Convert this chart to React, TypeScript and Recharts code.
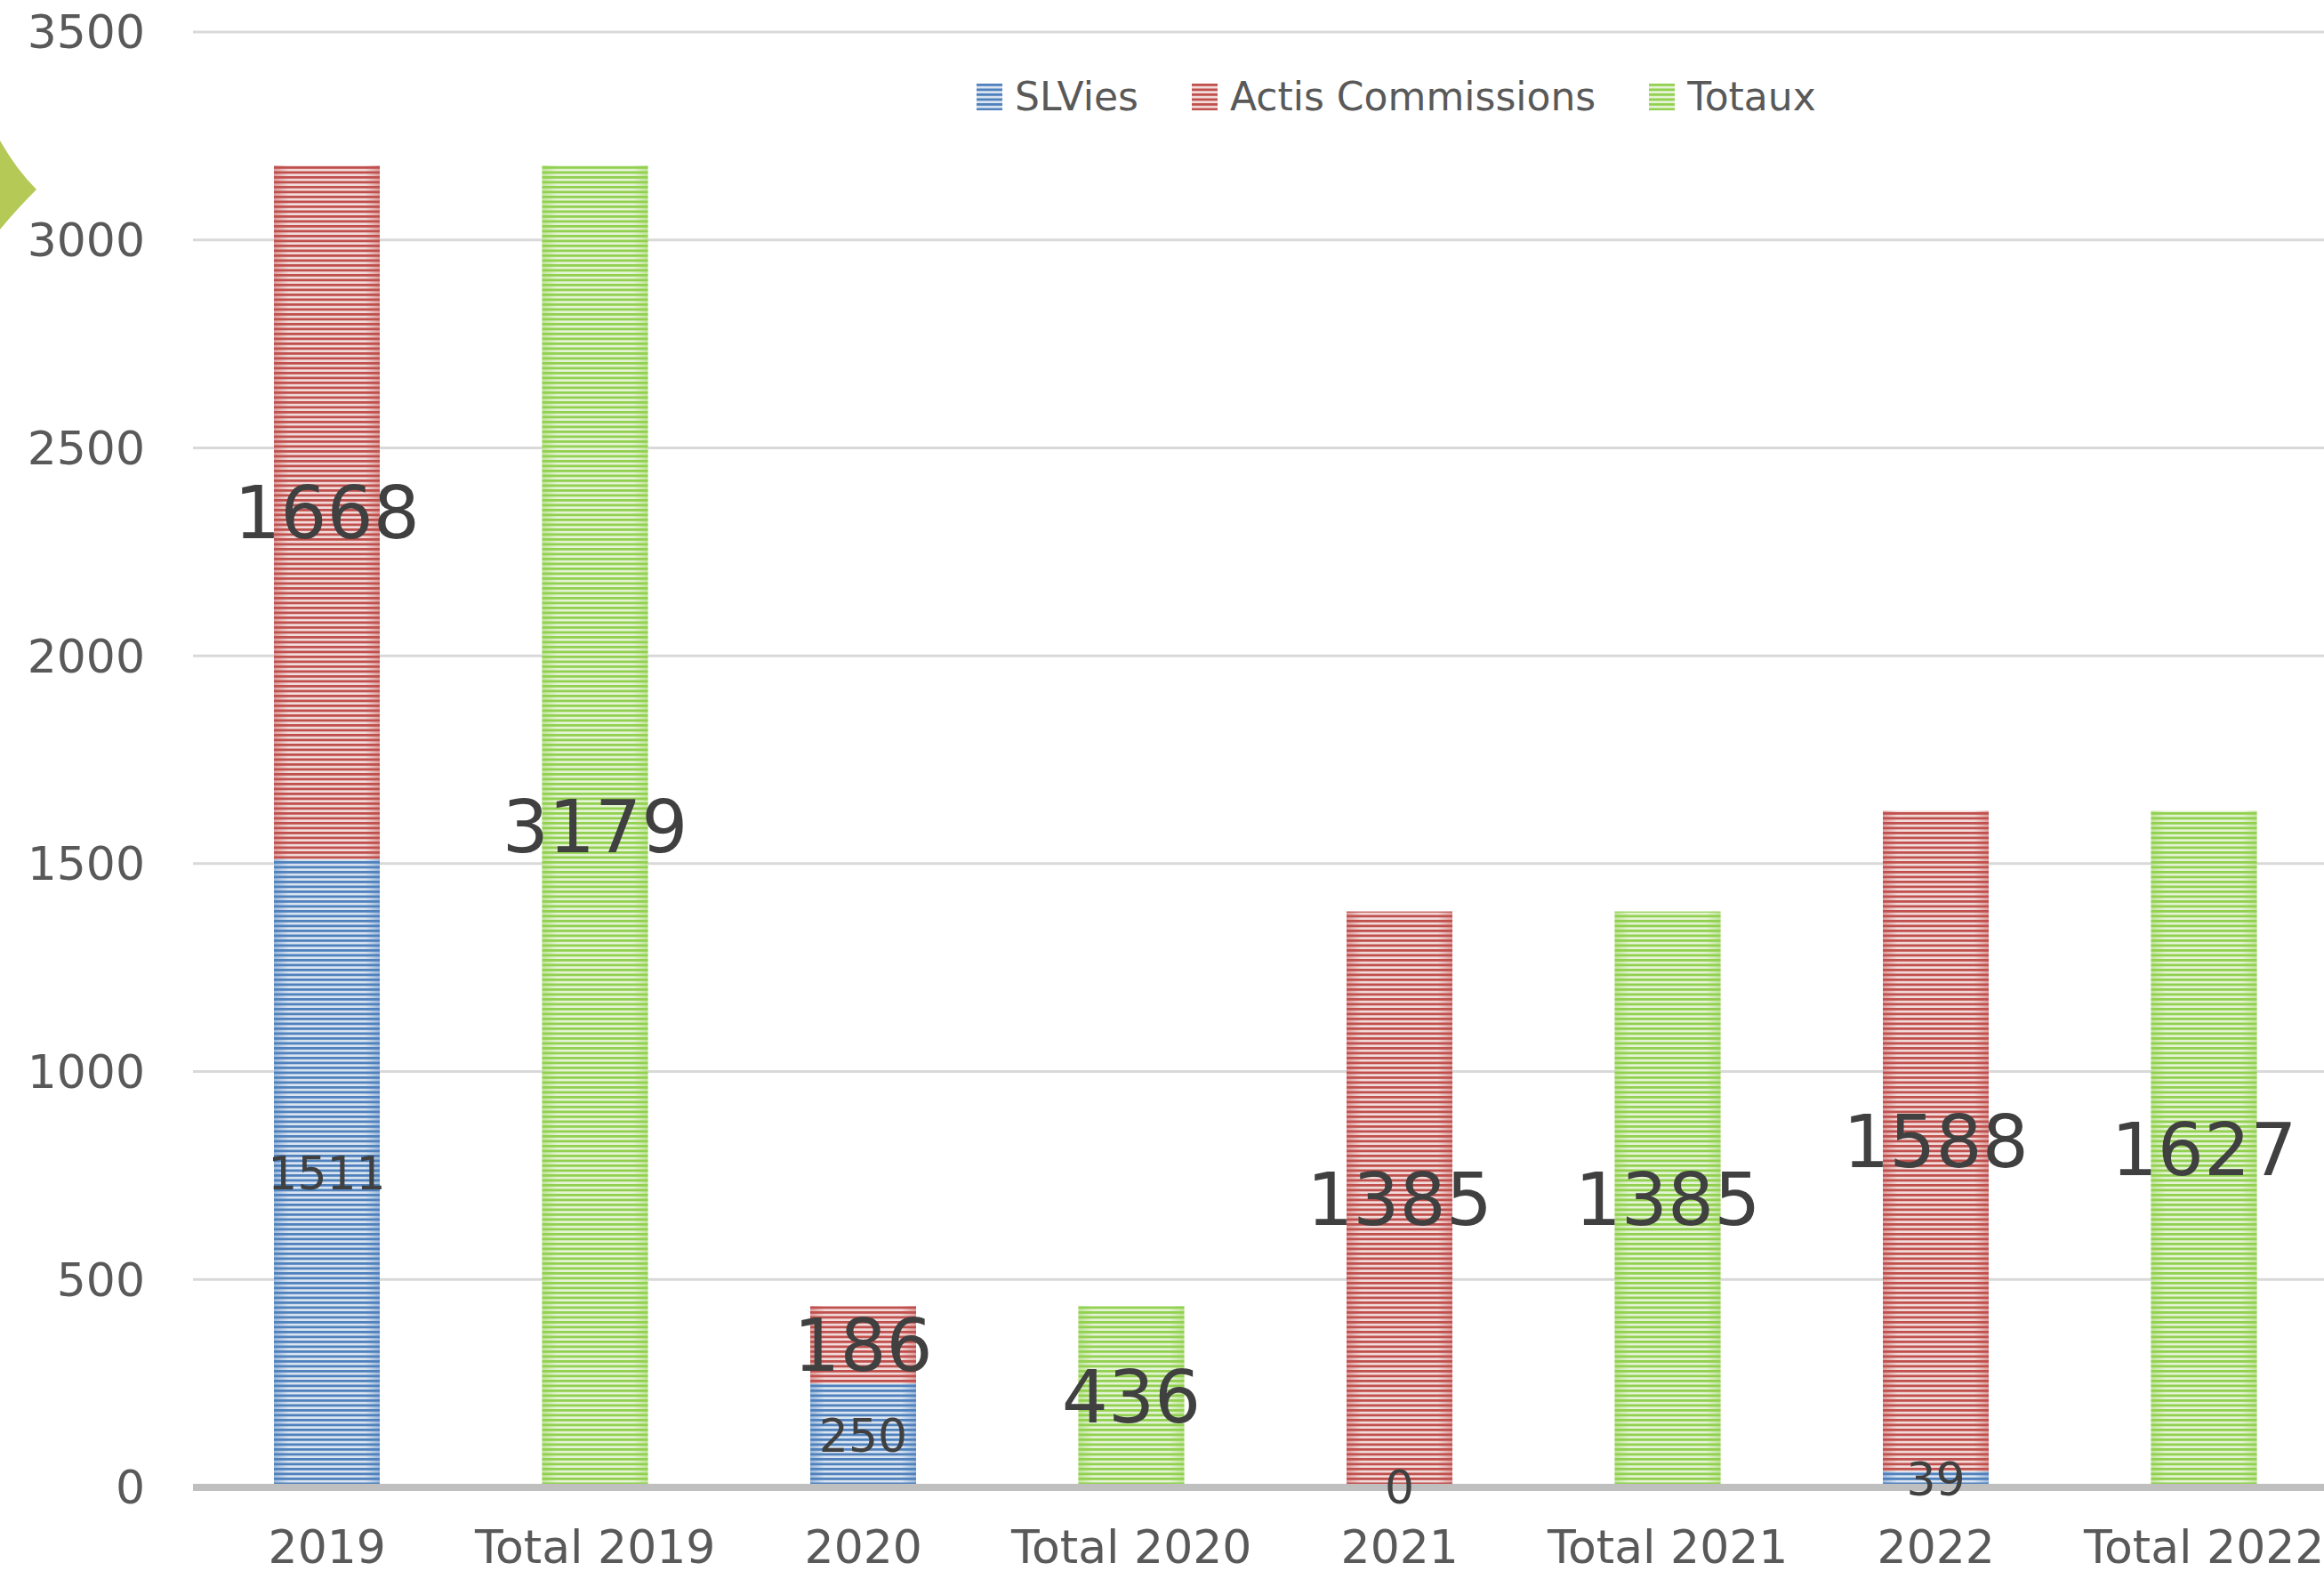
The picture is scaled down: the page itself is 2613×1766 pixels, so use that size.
import { Bar, BarChart, CartesianGrid, LabelList, Legend, XAxis, YAxis } from "recharts";

const categories = ["2019", "Total 2019", "2020", "Total 2020", "2021", "Total 2021", "2022", "Total 2022"];
const slvies = [1511, null, 250, null, 0, null, 39, null];
const actis = [1668, null, 186, null, 1385, null, 1588, null];
const totaux = [null, 3179, null, 436, null, 1385, null, 1627];
const yTicks = [0, 500, 1000, 1500, 2000, 2500, 3000, 3500];

const data = categories.map((name, i) => ({
  name,
  SLVies: slvies[i],
  "Actis Commissions": actis[i],
  Totaux: totaux[i],
}));

const FONT = "'DejaVu Sans', sans-serif";

const colors = {
  blue: { dark: "#4f81bd", light: "#dbe5f1" },
  red: { dark: "#c0504d", light: "#f2dcdb" },
  green: { dark: "#92d050", light: "#e5f4d6" },
};

const StripedRect = (props: any) => {
  const { x, y, width, height, tone } = props;
  if (!height || height <= 0) return null;
  return (
    <g>
      <rect x={x} y={y} width={width} height={height} fill={`url(#stripe-${tone})`} />
      <rect x={x} y={y} width={width} height={height} fill={`url(#edge-${tone})`} />
    </g>
  );
};

const renderLegend = () => {
  const items = [
    { name: "SLVies", tone: "blue" },
    { name: "Actis Commissions", tone: "red" },
    { name: "Totaux", tone: "green" },
  ];
  return (
    <div style={{ display: "flex", alignItems: "center", fontFamily: FONT, fontSize: 44, color: "#595959" }}>
      {items.map((it) => (
        <div key={it.name} style={{ display: "flex", alignItems: "center", marginRight: 60 }}>
          <svg width={29} height={30} style={{ marginRight: 14 }}>
            <rect x={0} y={0} width={29} height={30} fill={`url(#stripe-${it.tone})`} />
          </svg>
          <span>{it.name}</span>
        </div>
      ))}
    </div>
  );
};

export default function App() {
  return (
    <div style={{ position: "absolute", left: 0, top: 0, width: 2613, height: 1766, overflow: "hidden", background: "#fff" }}>
      <svg width={60} height={300} style={{ position: "absolute", left: 0, top: 0 }}>
        <path d="M0,158 Q18,190 41,213 Q18,236 0,258 Z" fill="#b5c956" />
      </svg>
      <div style={{ position: "absolute", left: 0, top: 0 }}>
        <BarChart
          width={2650}
          height={1766}
          data={data}
          margin={{ top: 36, right: 21, left: 0, bottom: 0 }}
        >
          <defs>
            {Object.entries(colors).map(([k, c]) => (
              <pattern key={k} id={`stripe-${k}`} patternUnits="userSpaceOnUse" width={8} height={5.5}>
                <rect x={0} y={0} width={8} height={5.5} fill={c.light} />
                <rect x={0} y={0} width={8} height={2.8} fill={c.dark} />
              </pattern>
            ))}
            {Object.entries(colors).map(([k, c]) => (
              <linearGradient key={k} id={`edge-${k}`} x1="0" y1="0" x2="1" y2="0">
                <stop offset="0" stopColor={c.dark} stopOpacity={0.45} />
                <stop offset="0.14" stopColor={c.dark} stopOpacity={0} />
                <stop offset="0.86" stopColor={c.dark} stopOpacity={0} />
                <stop offset="1" stopColor={c.dark} stopOpacity={0.45} />
              </linearGradient>
            ))}
          </defs>
          <CartesianGrid vertical={false} stroke="#d9d9d9" strokeWidth={3} />
          <XAxis
            dataKey="name"
            height={94}
            axisLine={{ stroke: "#bfbfbf", strokeWidth: 8 }}
            tickLine={false}
            tickSize={0}
            tickMargin={48}
            interval={0}
            tick={{ fill: "#595959", fontSize: 52, fontFamily: FONT }}
          />
          <YAxis
            width={217}
            domain={[0, 3500]}
            ticks={yTicks}
            axisLine={false}
            tickLine={false}
            tickSize={0}
            tickMargin={54}
            tick={{ fill: "#595959", fontSize: 52, fontFamily: FONT }}
          />
          <Legend
            content={renderLegend}
            verticalAlign="middle"
            align="center"
            wrapperStyle={{ position: "absolute", top: 83, left: 1098, width: "auto" }}
          />
          <Bar
            dataKey="SLVies"
            stackId="a"
            barSize={119}
            fill={colors.blue.dark}
            isAnimationActive={false}
            shape={(p: any) => <StripedRect {...p} tone="blue" />}
          >
            <LabelList dataKey="SLVies" position="center" fill="#404040" fontSize={52} fontFamily={FONT} />
          </Bar>
          <Bar
            dataKey="Actis Commissions"
            stackId="a"
            barSize={119}
            fill={colors.red.dark}
            isAnimationActive={false}
            shape={(p: any) => <StripedRect {...p} tone="red" />}
          >
            <LabelList dataKey="Actis Commissions" position="center" fill="#404040" fontSize={82} fontFamily={FONT} />
          </Bar>
          <Bar
            dataKey="Totaux"
            stackId="a"
            barSize={119}
            fill={colors.green.dark}
            isAnimationActive={false}
            shape={(p: any) => <StripedRect {...p} tone="green" />}
          >
            <LabelList dataKey="Totaux" position="center" fill="#404040" fontSize={82} fontFamily={FONT} />
          </Bar>
        </BarChart>
      </div>
    </div>
  );
}
